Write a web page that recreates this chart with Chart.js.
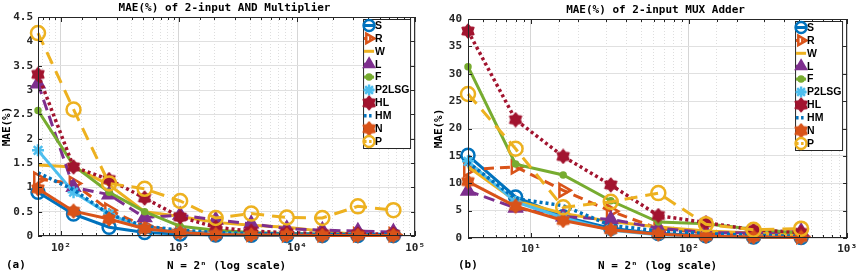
<!DOCTYPE html>
<html>
<head>
<meta charset="utf-8">
<script src="https://cdn.jsdelivr.net/npm/chart.js"></script>
<style>
  body { margin: 0; background: #fff; }
  canvas { position: absolute; top: 0; }
</style>
</head>
<body>
<canvas id="chartA" width="431" height="276" style="left:0"></canvas>
<canvas id="chartB" width="431" height="276" style="left:431px"></canvas>
<script>
// series names (legend order)
const seriesNames = ["S", "R", "W", "L", "F", "P2LSG", "HL", "HM", "N", "P"];

// (a) 2-input AND multiplier, N = 2^n
const andN = [64, 128, 256, 512, 1024, 2048, 4096, 8192, 16384, 32768, 65536];
const andS = [0.90, 0.45, 0.18, 0.07, 0.04, 0.02, 0.015, 0.01, 0.01, 0.01, 0.01];
const andR = [1.17, 1.08, 0.53, 0.20, 0.10, 0.06, 0.04, 0.03, 0.03, 0.03, 0.03];
const andW = [1.46, 1.42, 1.05, 0.50, 0.40, 0.28, 0.22, 0.18, 0.10, 0.03, 0.02];
const andL = [3.13, 1.00, 0.85, 0.38, 0.43, 0.33, 0.25, 0.15, 0.12, 0.10, 0.08];
const andF = [2.58, 1.45, 0.90, 0.50, 0.20, 0.12, 0.07, 0.05, 0.04, 0.03, 0.02];
const andP2LSG = [1.76, 0.90, 0.45, 0.15, 0.08, 0.05, 0.03, 0.02, 0.02, 0.02, 0.02];
const andHL = [3.32, 1.42, 1.16, 0.78, 0.39, 0.18, 0.10, 0.07, 0.05, 0.04, 0.04];
const andHM = [1.30, 0.95, 0.45, 0.20, 0.12, 0.07, 0.05, 0.04, 0.03, 0.03, 0.03];
const andNs = [0.97, 0.51, 0.35, 0.15, 0.07, 0.03, 0.02, 0.02, 0.01, 0.01, 0.01];
const andP = [4.17, 2.60, 1.08, 0.97, 0.72, 0.37, 0.46, 0.38, 0.37, 0.61, 0.53];

// (b) 2-input MUX adder
const muxN = [4, 8, 16, 32, 64, 128, 256, 512];
const muxS = [15.1, 7.5, 3.9, 1.8, 0.8, 0.4, 0.2, 0.1];
const muxR = [12.5, 13.0, 8.7, 4.9, 1.7, 0.9, 0.5, 0.3];
const muxW = [13.0, 6.8, 4.5, 3.0, 2.0, 1.3, 0.9, 0.6];
const muxL = [8.6, 5.5, 3.9, 3.4, 1.8, 1.0, 0.9, 1.2];
const muxF = [31.3, 13.5, 11.5, 6.8, 2.9, 2.6, 1.6, 0.9];
const muxP2LSG = [14.0, 6.6, 3.7, 1.4, 0.6, 0.3, 0.2, 0.1];
const muxHL = [37.8, 21.6, 14.9, 9.7, 4.1, 2.8, 1.5, 1.0];
const muxHM = [13.8, 7.2, 5.9, 2.3, 1.3, 0.8, 0.5, 0.3];
const muxNs = [10.3, 5.8, 3.2, 1.5, 0.7, 0.3, 0.2, 0.1];
const muxP = [26.3, 16.3, 5.6, 6.6, 8.2, 2.5, 1.5, 1.7];

// tick labels
const andXTicks = [100, 1000, 10000, 100000];
const andXLabels = ["10²", "10³", "10⁴", "10⁵"];
const muxXTicks = [10, 100, 1000];
const muxXLabels = ["10¹", "10²", "10³"];

const MONO = "'DejaVu Sans Mono', monospace";

function hexagram(color) {
  const c = document.createElement("canvas");
  c.width = c.height = 16;
  const g = c.getContext("2d");
  g.fillStyle = color;
  g.strokeStyle = color;
  g.lineWidth = 1.5;
  g.lineJoin = "round";
  g.beginPath();
  for (let k = 0; k < 12; k++) {
    const r = k % 2 ? 4.6 : 6.8;
    const a = -Math.PI / 2 + k * Math.PI / 6;
    const px = 8 + r * Math.cos(a), py = 8 + r * Math.sin(a);
    k ? g.lineTo(px, py) : g.moveTo(px, py);
  }
  g.closePath();
  g.fill();
  g.stroke();
  return c;
}

const styles = [
  { color: "#0072BD", width: 3, dash: [], point: "circle", r: 6.5, fill: "rgba(0,0,0,0)" },
  { color: "#D95319", width: 3, dash: [10, 6], point: "triangle", rot: 90, r: 7.5, fill: "rgba(0,0,0,0)" },
  { color: "#EDB120", width: 3, dash: [], point: "circle", r: 0 },
  { color: "#7E2F8E", width: 3, dash: [11, 6], point: "triangle", r: 7, fill: "#7E2F8E" },
  { color: "#77AC30", width: 3, dash: [], point: "circle", r: 2.5, fill: "#77AC30" },
  { color: "#4DBEEE", width: 3, dash: [], point: "star", r: 6, fill: "#4DBEEE" },
  { color: "#A2142F", width: 3.5, dash: [3, 3], point: hexagram("#A2142F"), r: 6 },
  { color: "#0072BD", width: 3.5, dash: [3, 3], point: "circle", r: 0 },
  { color: "#D95319", width: 3, dash: [], point: hexagram("#D95319"), r: 6 },
  { color: "#EDB120", width: 3, dash: [13, 8], point: "circle", r: 7, fill: "rgba(0,0,0,0)" }
];

const isPow10 = (v) => Math.abs(Math.log10(v) - Math.round(Math.log10(v))) < 1e-9;

const panelDecor = {
  id: "panelDecor",
  afterDraw(chart, args, opts) {
    const { ctx, chartArea: a, scales } = chart;
    ctx.save();
    // box and inward ticks
    ctx.strokeStyle = "#262626";
    ctx.lineWidth = 1;
    ctx.setLineDash([]);
    ctx.strokeRect(a.left + 0.5, a.top + 0.5, a.right - a.left - 1, a.bottom - a.top - 1);
    ctx.beginPath();
    scales.x.ticks.forEach((t) => {
      const x = Math.round(scales.x.getPixelForValue(t.value)) + 0.5;
      const len = isPow10(t.value) ? 5 : 3;
      ctx.moveTo(x, a.bottom); ctx.lineTo(x, a.bottom - len);
      ctx.moveTo(x, a.top); ctx.lineTo(x, a.top + len);
    });
    scales.y.ticks.forEach((t) => {
      const y = Math.round(scales.y.getPixelForValue(t.value)) + 0.5;
      ctx.moveTo(a.left, y); ctx.lineTo(a.left + 4, y);
      ctx.moveTo(a.right, y); ctx.lineTo(a.right - 4, y);
    });
    ctx.stroke();

    // title and panel tag
    ctx.fillStyle = "#000";
    ctx.font = "bold 11px " + MONO;
    ctx.textAlign = "center";
    ctx.textBaseline = "middle";
    ctx.fillText(opts.title, (a.left + a.right) / 2 - 2, a.top - 9);
    ctx.textAlign = "left";
    ctx.fillText(opts.tag, opts.tagX, 265);

    // legend
    const bw = 47, bh = 129;
    const bx = a.right - 5 - bw, by = a.top + 2;
    ctx.fillStyle = "#fff";
    ctx.fillRect(bx, by, bw, bh);
    ctx.strokeStyle = "#262626";
    ctx.strokeRect(bx + 0.5, by + 0.5, bw, bh);
    chart.data.datasets.forEach((ds, i) => {
      const y = by + 6.5 + i * 12.9;
      const mx = bx + 6;
      ctx.save();
      ctx.strokeStyle = ds.borderColor;
      ctx.lineWidth = ds.borderWidth;
      ctx.setLineDash(ds.borderDash.length ? [2.5, 2.5] : []);
      ctx.beginPath();
      ctx.moveTo(mx - 5, y);
      ctx.lineTo(mx + 5, y);
      ctx.stroke();
      if (ds.pointRadius > 0) {
        ctx.setLineDash([]);
        ctx.fillStyle = ds.pointBackgroundColor;
        ctx.strokeStyle = ds.pointBorderColor;
        ctx.lineWidth = ds.pointBorderWidth;
        Chart.helpers.drawPoint(ctx, {
          pointStyle: ds.pointStyle,
          rotation: ds.pointRotation || 0,
          radius: Math.min(ds.pointRadius, 5.5),
          borderWidth: ds.pointBorderWidth
        }, mx, y);
      }
      ctx.restore();
      ctx.fillStyle = "#000";
      ctx.font = "bold 10.5px 'Liberation Sans', Arial, sans-serif";
      ctx.textAlign = "left";
      ctx.textBaseline = "middle";
      ctx.fillText(ds.label, bx + 12, y + 0.5);
    });
    ctx.restore();
  }
};

function buildDatasets(xs, series) {
  return series.map((vals, i) => {
    const s = styles[i];
    return {
      label: seriesNames[i],
      data: xs.map((x, k) => ({ x, y: vals[k] })),
      borderColor: s.color,
      borderWidth: s.width,
      borderDash: s.dash,
      pointStyle: s.point,
      pointRotation: s.rot || 0,
      pointRadius: s.r,
      pointBorderWidth: 2.5,
      pointBorderColor: s.color,
      pointBackgroundColor: s.fill || s.color,
      tension: 0,
      fill: false,
      clip: 10,
      order: -i
    };
  });
}

function makePanel(id, cfg) {
  new Chart(document.getElementById(id), {
    type: "line",
    data: { datasets: buildDatasets(cfg.xs, cfg.series) },
    options: {
      responsive: false,
      animation: false,
      devicePixelRatio: 1,
      layout: { padding: { left: 0, right: cfg.padRight, top: cfg.padTop, bottom: 0 } },
      plugins: {
        legend: { display: false },
        tooltip: { enabled: false },
        panelDecor: { title: cfg.title, tag: cfg.tag, tagX: cfg.tagX }
      },
      scales: {
        x: {
          type: "logarithmic",
          min: cfg.xMin,
          max: cfg.xMax,
          afterFit: (s) => { s.height = cfg.xHeight; },
          grid: {
            drawTicks: false,
            color: (c) => (c.tick && isPow10(c.tick.value) ? "#d6d6d6" : "#dedede")
          },
          border: {
            display: false,
            dash: (c) => (c.tick && isPow10(c.tick.value) ? [] : [1, 2])
          },
          ticks: {
            autoSkip: false,
            maxRotation: 0,
            padding: cfg.xPad,
            color: "#262626",
            font: { family: MONO, size: 11, weight: "bold" },
            callback: (v) => {
              const i = cfg.xTicks.findIndex((t) => Math.abs(t - v) / t < 1e-6);
              return i >= 0 ? cfg.xLabels[i] : "";
            }
          },
          title: {
            display: true,
            text: "N = 2ⁿ (log scale)",
            color: "#000",
            padding: { top: 0, bottom: 3 },
            font: { family: MONO, size: 11, weight: "bold" }
          }
        },
        y: {
          min: 0,
          max: cfg.yMax,
          afterFit: (s) => { s.width = cfg.yWidth; },
          grid: { drawTicks: false, color: "#e0e0e0" },
          border: { display: false },
          ticks: {
            stepSize: cfg.yStep,
            padding: cfg.yPad,
            color: "#262626",
            font: { family: MONO, size: 11, weight: "bold" },
            callback: (v) => String(Math.round(v * 100) / 100)
          },
          title: {
            display: true,
            text: "MAE(%)",
            color: "#000",
            padding: { top: cfg.yTitlePad, bottom: 0 },
            font: { family: MONO, size: 11, weight: "bold" }
          }
        }
      }
    },
    plugins: [panelDecor]
  });
}

makePanel("chartA", {
  xs: andN,
  series: [andS, andR, andW, andL, andF, andP2LSG, andHL, andHM, andNs, andP],
  title: "MAE(%) of 2-input AND Multiplier",
  tag: "(a)", tagX: 6,
  xMin: 64, xMax: 100000, xTicks: andXTicks, xLabels: andXLabels,
  yMax: 4.5, yStep: 0.5,
  padRight: 7, padTop: 17, xHeight: 40, yWidth: 38,
  xPad: 6, yPad: 5, yTitlePad: 1
});

makePanel("chartB", {
  xs: muxN,
  series: [muxS, muxR, muxW, muxL, muxF, muxP2LSG, muxHL, muxHM, muxNs, muxP],
  title: "MAE(%) of 2-input MUX Adder",
  tag: "(b)", tagX: 27,
  xMin: 4, xMax: 1000, xTicks: muxXTicks, xLabels: muxXLabels,
  yMax: 40, yStep: 5,
  padRight: 11, padTop: 19, xHeight: 38, yWidth: 37,
  xPad: 5, yPad: 6, yTitlePad: 2
});
</script>
</body>
</html>
